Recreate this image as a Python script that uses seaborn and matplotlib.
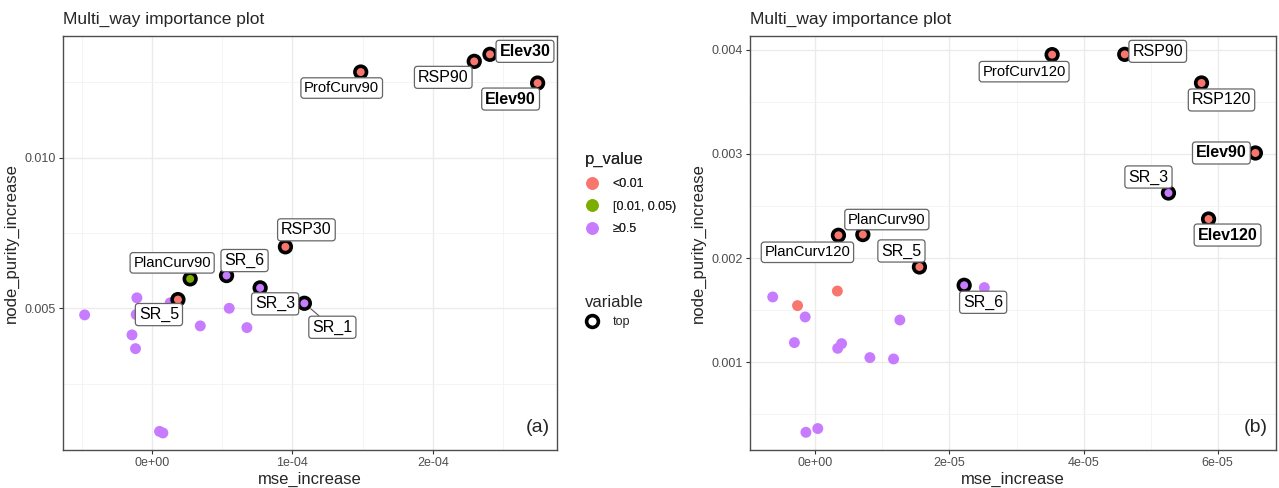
import matplotlib
matplotlib.use("Agg")
import numpy as np
import pandas as pd
import seaborn as sns
import matplotlib.pyplot as plt
from matplotlib.lines import Line2D
from matplotlib.ticker import FixedLocator, FixedFormatter
from matplotlib import font_manager

# ---------------- data ----------------
p_levels = ["<0.01", "[0.01, 0.05)", "\u22650.5"]

# panel (a)
a_top_names = ["ProfCurv90", "RSP90", "Elev30", "Elev90", "RSP30",
               "PlanCurv90", "SR_6", "SR_3", "SR_1", "SR_5"]
a_top_mse = [1.486e-4, 2.294e-4, 2.406e-4, 2.745e-4, 0.950e-4,
             0.272e-4, 0.531e-4, 0.770e-4, 1.085e-4, 0.185e-4]
a_top_node = [0.012846, 0.013201, 0.013434, 0.012480, 0.007041,
              0.005977, 0.006087, 0.005678, 0.005166, 0.005289]
a_top_p = ["<0.01", "<0.01", "<0.01", "<0.01", "<0.01",
           "[0.01, 0.05)", "\u22650.5", "\u22650.5", "\u22650.5", "<0.01"]
a_other_mse = [-0.107e-4, -0.479e-4, -0.112e-4, 0.130e-4, 0.550e-4, 0.344e-4,
               0.676e-4, -0.142e-4, -0.117e-4, 0.054e-4, 0.078e-4]
a_other_node = [0.005346, 0.004780, 0.004791, 0.005180, 0.005000, 0.004415,
                0.004358, 0.004116, 0.003660, 0.000911, 0.000858]
a_other_p = ["\u22650.5"] * 11
a_xticks = [0.0, 1e-4, 2e-4]
a_xticklabels = ["0e+00", "1e-04", "2e-04"]
a_yticks = [0.005, 0.010]
a_yticklabels = ["0.005", "0.010"]

# panel (b)
b_top_names = ["ProfCurv120", "RSP90", "RSP120", "Elev90", "SR_3",
               "Elev120", "PlanCurv120", "PlanCurv90", "SR_5", "SR_6"]
b_top_mse = [3.531e-5, 4.614e-5, 5.759e-5, 6.5625e-5, 5.266e-5,
             5.864e-5, 0.344e-5, 0.708e-5, 1.552e-5, 2.219e-5]
b_top_node = [0.003952, 0.003955, 0.003680, 0.003008, 0.002624,
              0.002374, 0.002218, 0.002225, 0.001914, 0.001738]
b_top_p = ["<0.01", "<0.01", "<0.01", "<0.01", "\u22650.5",
           "<0.01", "<0.01", "<0.01", "<0.01", "\u22650.5"]
b_other_mse = [2.52e-5, 0.328e-5, -0.636e-5, -0.266e-5, -0.152e-5, 1.26e-5,
               -0.313e-5, 0.391e-5, 0.333e-5, 0.813e-5, 1.166e-5,
               -0.141e-5, 0.036e-5]
b_other_node = [0.001716, 0.001683, 0.001626, 0.001543, 0.001434, 0.001405,
                0.001188, 0.001178, 0.001133, 0.001044, 0.001031,
                0.000327, 0.000363]
b_other_p = ["\u22650.5", "<0.01", "\u22650.5", "<0.01", "\u22650.5", "\u22650.5",
             "\u22650.5", "\u22650.5", "\u22650.5", "\u22650.5", "\u22650.5",
             "\u22650.5", "\u22650.5"]
b_xticks = [0.0, 2e-5, 4e-5, 6e-5]
b_xticklabels = ["0e+00", "2e-05", "4e-05", "6e-05"]
b_yticks = [0.001, 0.002, 0.003, 0.004]
b_yticklabels = ["0.001", "0.002", "0.003", "0.004"]

# ---------------- style / layout ----------------
palette = {"<0.01": "#F8766D", "[0.01, 0.05)": "#7CAE00", "\u22650.5": "#C77CFF"}
bold_labels = {"Elev30", "Elev90", "Elev120"}
narrow_labels = {"ProfCurv90", "PlanCurv90", "ProfCurv120", "PlanCurv120"}
# label offsets in pixels (dx, dy up) relative to point
a_offsets = {"ProfCurv90": (-19, -16), "RSP90": (-31, -16), "Elev30": (35, 3),
             "Elev90": (-27, -16), "RSP30": (21, 17), "PlanCurv90": (-18, 16),
             "SR_6": (18, 15), "SR_3": (15, -16), "SR_1": (28, -24), "SR_5": (-19, -15)}
b_offsets = {"ProfCurv120": (-28, -17), "RSP90": (33, 3), "RSP120": (20, -17),
             "Elev90": (-34, 0), "SR_3": (-20, 16), "PlanCurv90": (24, 15),
             "PlanCurv120": (-31, -17), "SR_5": (-18, 16), "SR_6": (19, -17),
             "Elev120": (19, -16)}
segment_labels = {"SR_1"}

sns.set_style("white")
plt.rcParams["font.family"] = ["Liberation Sans", "DejaVu Sans"]
installed = {f.name for f in font_manager.fontManager.ttflist}
narrow_family = (["Liberation Sans Narrow", "Liberation Sans"]
                 if "Liberation Sans Narrow" in installed else ["Liberation Sans"])
narrow_size = 11.5 if "Liberation Sans Narrow" in installed else 10.6

W, H = 1279, 488
fig = plt.figure(figsize=(W / 100, H / 100), dpi=100)


def px_axes(x0, y0, x1, y1):
    return fig.add_axes([x0 / W, 1 - y1 / H, (x1 - x0) / W, (y1 - y0) / H])


def draw_panel(ax, top_names, top_x, top_y, top_p, oth_x, oth_y, oth_p,
               xlim, ylim, xt, xtl, yt, ytl, offsets, tag):
    df_all = pd.DataFrame({
        "mse_increase": list(oth_x) + list(top_x),
        "node_purity_increase": list(oth_y) + list(top_y),
        "p_value": list(oth_p) + list(top_p),
    })
    df_top = pd.DataFrame({"name": top_names, "mse_increase": top_x,
                           "node_purity_increase": top_y, "p_value": top_p})
    sns.scatterplot(data=df_all, x="mse_increase", y="node_purity_increase",
                    hue="p_value", palette=palette, hue_order=p_levels,
                    s=62, linewidth=0, ax=ax, legend=False, zorder=3)
    sns.scatterplot(data=df_top, x="mse_increase", y="node_purity_increase",
                    hue="p_value", palette=palette, hue_order=p_levels,
                    s=70, edgecolor="black", linewidth=2.6, ax=ax,
                    legend=False, zorder=4)
    for _, r in df_top.iterrows():
        dx, dy = offsets[r["name"]]
        arrow = None
        if r["name"] in segment_labels:
            arrow = dict(arrowstyle="-", color="#555555", lw=0.8,
                         shrinkA=0, shrinkB=6)
        is_narrow = r["name"] in narrow_labels
        ax.annotate(r["name"], xy=(r["mse_increase"], r["node_purity_increase"]),
                    xytext=(dx, dy), textcoords="offset pixels",
                    ha="center", va="center",
                    fontsize=narrow_size if is_narrow else 11.5,
                    family=narrow_family if is_narrow else ["Liberation Sans", "DejaVu Sans"],
                    fontweight="bold" if r["name"] in bold_labels else "normal",
                    color="black", zorder=5, arrowprops=arrow,
                    bbox=dict(boxstyle="round,pad=0.22,rounding_size=0.2",
                              fc="white", ec="#666666", lw=0.9))
    ax.set_xlim(*xlim)
    ax.set_ylim(*ylim)
    ax.xaxis.set_major_locator(FixedLocator(xt))
    ax.xaxis.set_major_formatter(FixedFormatter(xtl))
    ax.yaxis.set_major_locator(FixedLocator(yt))
    ax.yaxis.set_major_formatter(FixedFormatter(ytl))
    xm = [xt[0] - (xt[1] - xt[0]) / 2] + [(a + b) / 2 for a, b in zip(xt[:-1], xt[1:])] + [xt[-1] + (xt[1] - xt[0]) / 2]
    ym = [yt[0] - (yt[1] - yt[0]) / 2] + [(a + b) / 2 for a, b in zip(yt[:-1], yt[1:])] + [yt[-1] + (yt[1] - yt[0]) / 2]
    ax.xaxis.set_minor_locator(FixedLocator(xm))
    ax.yaxis.set_minor_locator(FixedLocator(ym))
    ax.grid(True, which="major", color="#EBEBEB", lw=1.0, zorder=0)
    ax.grid(True, which="minor", color="#F2F2F2", lw=0.6, zorder=0)
    ax.set_axisbelow(True)
    for sp in ax.spines.values():
        sp.set_color("#4D4D4D")
        sp.set_linewidth(1.0)
        sp.set_visible(True)
    ax.tick_params(axis="both", which="major", length=3, width=0.8,
                   color="#333333", labelsize=9, labelcolor="#4D4D4D", pad=2,
                   left=True, bottom=True)
    ax.tick_params(axis="both", which="minor", length=0)
    ax.set_xlabel("mse_increase", fontsize=12, labelpad=2)
    ax.set_ylabel("node_purity_increase", fontsize=12, labelpad=4)
    ax.set_title("Multi_way importance plot", loc="left", fontsize=12.5, pad=9)
    ax.text(0.985, 0.035, tag, transform=ax.transAxes, ha="right", va="bottom",
            fontsize=14)


ax1 = px_axes(63, 36, 557, 450)
draw_panel(ax1, a_top_names, a_top_mse, a_top_node, a_top_p,
           a_other_mse, a_other_node, a_other_p,
           (-0.633e-4, 2.883e-4), (0.000293, 0.014043),
           a_xticks, a_xticklabels, a_yticks, a_yticklabels, a_offsets, "(a)")

ax2 = px_axes(750, 36, 1276, 450)
draw_panel(ax2, b_top_names, b_top_mse, b_top_node, b_top_p,
           b_other_mse, b_other_node, b_other_p,
           (-0.975e-5, 6.87e-5), (0.000157, 0.004131),
           b_xticks, b_xticklabels, b_yticks, b_yticklabels, b_offsets, "(b)")

# legends
h1 = [Line2D([], [], marker="o", ls="", markersize=8, markerfacecolor=palette[k],
             markeredgecolor=palette[k]) for k in p_levels]
leg1 = fig.legend(h1, p_levels, title="p_value", loc="upper left",
                  bbox_to_anchor=(574 / W, 1 - 141 / H), frameon=False,
                  fontsize=9, title_fontsize=12, alignment="left",
                  handlelength=1.0, handletextpad=1.2, labelspacing=0.85)
h2 = [Line2D([], [], marker="o", ls="", markersize=8.5, markerfacecolor="white",
             markeredgecolor="black", markeredgewidth=2.6)]
leg2 = fig.legend(h2, ["top"], title="variable", loc="upper left",
                  bbox_to_anchor=(574 / W, 1 - 284 / H), frameon=False,
                  fontsize=9, title_fontsize=12, alignment="left",
                  handlelength=1.0, handletextpad=1.2)
fig.add_artist(leg1)

fig.savefig("out.png", dpi=100)
